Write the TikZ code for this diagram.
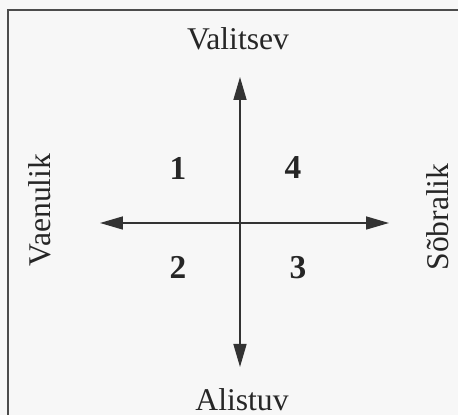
\documentclass[tikz,border=0pt]{standalone}
\usepackage{fontspec}
\setmainfont{Liberation Serif}
\usepackage{xcolor}
\usetikzlibrary{arrows.meta,positioning}

\begin{document}
\begin{tikzpicture}[
    x=0.02cm, y=-0.02cm,
    axislabel/.style={
        inner sep=0pt,
        font=\fontsize{18}{20}\selectfont,
        text=black!85
    },
    quadrant/.style={
        inner sep=0pt,
        font=\fontsize{19}{20}\selectfont\bfseries,
        text=black!85
    },
    axis/.style={
        {Triangle[length=4.6mm,width=2.6mm]}-{Triangle[length=4.6mm,width=2.6mm]},
        line width=0.9pt,
        draw=black!80
    }
]

% Page background and frame
\fill[black!3] (0,0) rectangle (458,415);
\useasboundingbox (0,0) rectangle (458,415);
\draw[line width=1.1pt, black!70] (8,415) -- (8,10) -- (458,10);

% Axis ends
\coordinate (origin) at (240,223);
\coordinate (top) at (240,77);
\coordinate (bottom) at (240,367);
\coordinate (left) at (100,223);
\coordinate (right) at (389,223);

% Axes
\draw[axis] (bottom) -- (top);
\draw[axis] (left) -- (right);

% Axis labels
\node[axislabel] (valitsev) at (238,39) {Valitsev};
\node[axislabel] (alistuv) at (242,400) {Alistuv};
\node[axislabel, rotate=90] (vaenulik) at (40,210) {Vaenulik};
\node[axislabel, rotate=90] (sobralik) at (438,217) {Sõbralik};

% Quadrant numbers
\node[quadrant] (q1) at (178,168) {1};
\node[quadrant] (q4) at (293,168) {4};
\node[quadrant] (q2) at (178,267) {2};
\node[quadrant] (q3) at (298,268) {3};

\end{tikzpicture}
\end{document}
